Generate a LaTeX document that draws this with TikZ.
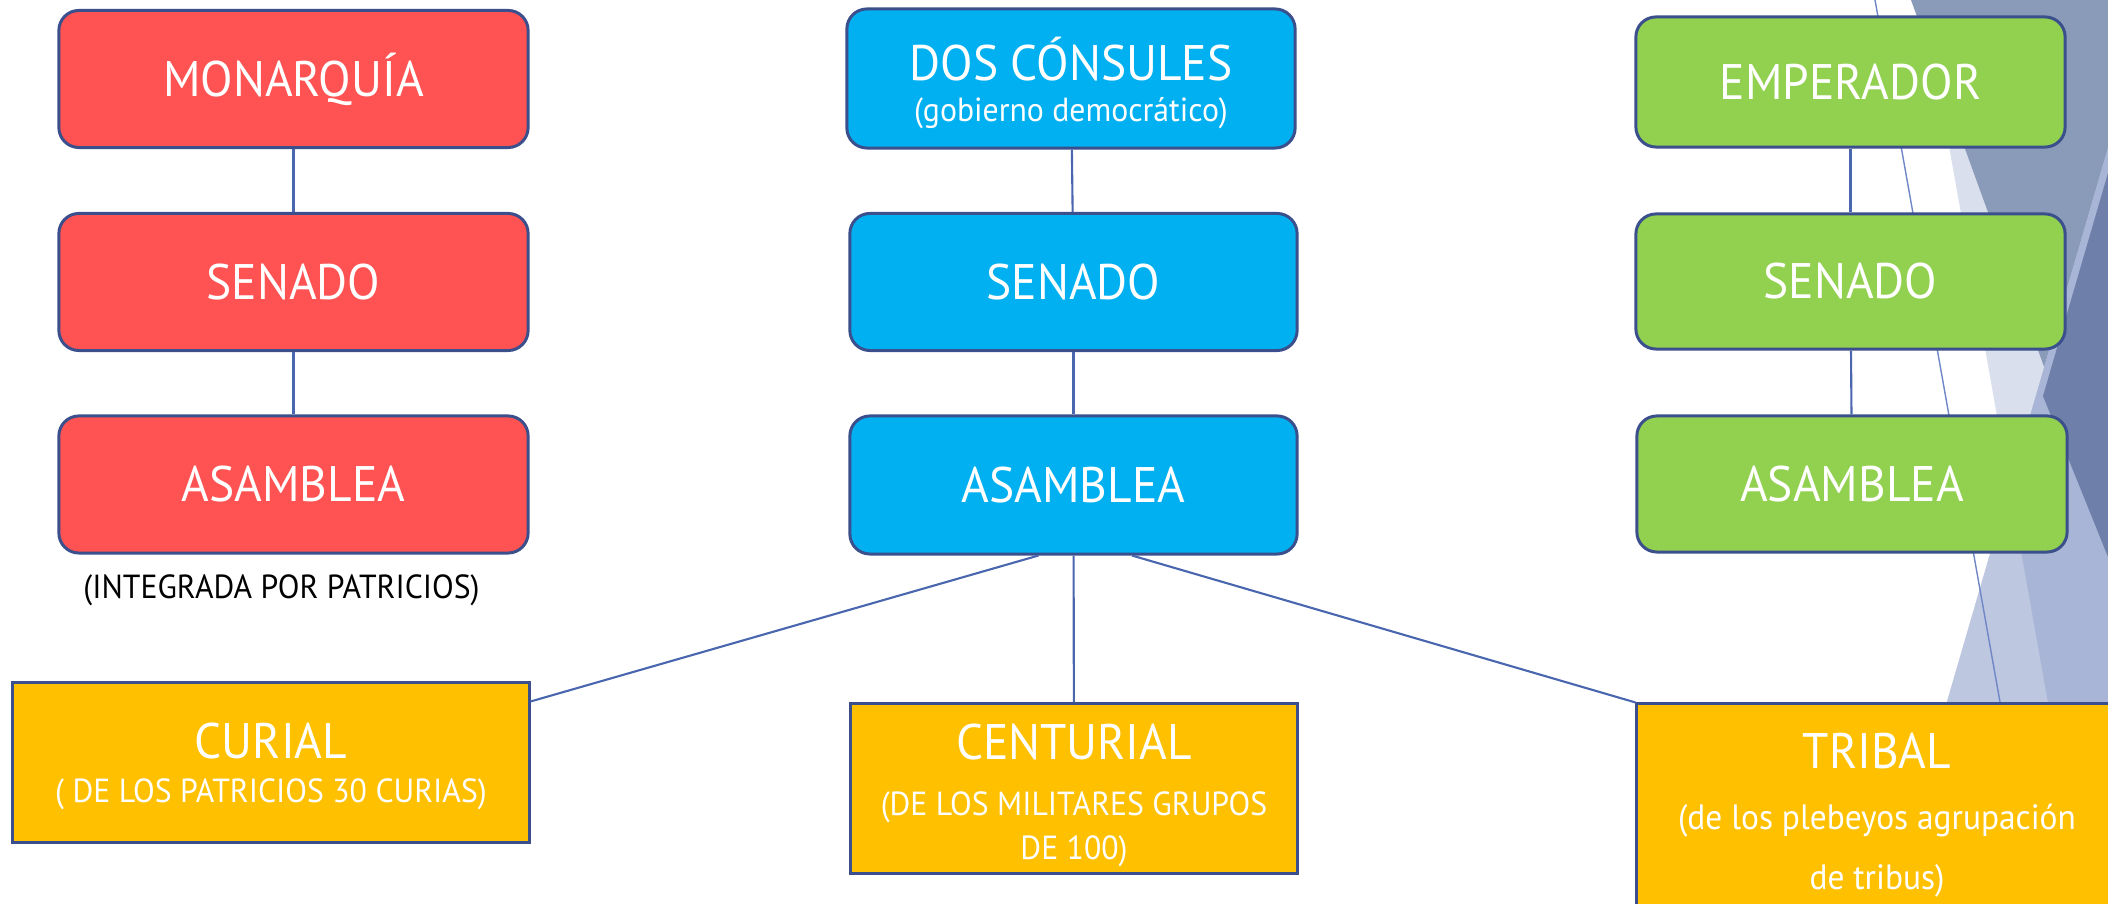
\documentclass[tikz,border=0pt]{standalone}
\usepackage{fontspec}
\setmainfont{PT Sans}[FakeStretch=0.95]
\usepackage{xcolor}
\definecolor{rojo}{HTML}{FF5252}
\definecolor{azul}{HTML}{00B0F0}
\definecolor{verde}{HTML}{92D050}
\definecolor{amarillo}{HTML}{FFC000}
\definecolor{borde}{HTML}{3A4F8C}
\definecolor{linea}{HTML}{4A66AE}
\definecolor{facetA}{HTML}{D9DFEC}
\definecolor{facetB}{HTML}{8A9AB9}
\definecolor{facetC}{HTML}{BEC7E0}
\definecolor{facetD}{HTML}{A8B5D6}
\definecolor{facetE}{HTML}{6E7FAA}
\definecolor{rayita}{HTML}{6F87C6}
\newcommand{\subtxt}[1]{{\fontsize{9.5}{10}\selectfont #1}}

\begin{document}
\begin{tikzpicture}[x=0.01cm, y=-0.01cm,
        box/.style = {draw=borde, line width=0.85pt, rounded corners=0.2cm,
            text=white, align=center, inner sep=0pt, minimum height=1.37cm,
            font=\fontsize{14.2}{16}\selectfont},
        rojos/.style = {box, fill=rojo, minimum width=4.69cm},
        azules/.style = {box, fill=azul, minimum width=4.47cm},
        verdes/.style = {box, fill=verde, minimum width=4.29cm},
        cuad/.style = {box, sharp corners, fill=amarillo},
        con/.style = {draw=linea, line width=0.6pt}]
        \clip (0,0) rectangle (2108,904);

        % Background facets
        \fill[facetA] (1923,0) -- (2108,0) -- (2108,1040) -- cycle;
        \fill[facetB] (1911,0) -- (2108,0) -- (2108,543) -- cycle;
        \fill[facetC] (1888,904) -- (2108,148) -- (2108,904) -- cycle;
        \begin{scope}
            \clip (1888,904) -- (2108,148) -- (2108,904) -- cycle;
            \fill[facetD] (1923,0) -- (2108,0) -- (2108,1040) -- cycle;
        \end{scope}
        \fill[facetE] (2108,173) -- (2043,396) -- (2108,557) -- cycle;
        \draw[rayita, line width=0.4pt] (1875,0) -- (2000,702);

        % Monarquia
        \node[rojos] (mon) at (293.5,79) {MONARQUÍA};
        \node[rojos] (sen1) at (293.5,282) {SENADO};
        \node[rojos,label={[text=black, inner sep=0pt, xshift=-0.12cm,
            label distance=0.19cm, font=\fontsize{9.5}{10}\selectfont]below:(INTEGRADA POR PATRICIOS)}]
            (asa1) at (293.5,484.5) {ASAMBLEA};

        % Republica
        \node[azules, minimum width=4.48cm, minimum height=1.39cm] (con) at (1071,78.5)
            {\rule{0pt}{14.8pt}DOS CÓNSULES\\[-4.5pt]\subtxt{(gobierno democrático)}};
        \node[azules] (sen2) at (1073.5,282) {SENADO};
        \node[azules, minimum height=1.38cm] (asa2) at (1073.5,485) {ASAMBLEA};

        % Imperio
        \node[verdes, minimum height=1.30cm] (emp) at (1850.5,82) {EMPERADOR};
        \node[verdes, minimum height=1.35cm] (sen3) at (1850.5,281.5) {SENADO};
        \node[verdes, minimum width=4.30cm, minimum height=1.36cm] (asa3) at (1852,484) {ASAMBLEA};

        % Tipos de asamblea
        \node[cuad, minimum width=5.16cm, minimum height=1.59cm] (cur) at (271,762.5)
            {\rule{0pt}{12.3pt}CURIAL\\[-3.7pt]\subtxt{( DE LOS PATRICIOS 30 CURIAS)}};
        \node[cuad, minimum width=4.46cm, minimum height=1.69cm] (cen) at (1074,788.5)
            {\rule{0pt}{14pt}CENTURIAL\\[0pt]\subtxt{(DE LOS MILITARES GRUPOS}\\[-3.5pt]\subtxt{DE 100)}};
        \node[cuad, minimum width=4.80cm, minimum height=2.16cm] (tri) at (1877,812)
            {\rule{0pt}{12pt}TRIBAL\\[1.3pt]{\fontsize{10}{10}\selectfont (de los plebeyos agrupación}\\[1pt]{\fontsize{10}{10}\selectfont de tribus)}};

        % Lines
        \draw[con] (mon) -- (sen1);
        \draw[con] (sen1) -- (asa1);
        \draw[con] (con) -- (sen2);
        \draw[con] (sen2) -- (asa2);
        \draw[con] (emp) -- (sen3);
        \draw[con] (sen3) -- (asa3);
        \draw[con] ([xshift=-0.35cm]asa2.south) -- ([yshift=-0.2cm]cur.north east);
        \draw[con] (asa2) -- (cen);
        \draw[con] ([xshift=0.585cm]asa2.south) -- (tri.north west);
    \end{tikzpicture}
\end{document}
